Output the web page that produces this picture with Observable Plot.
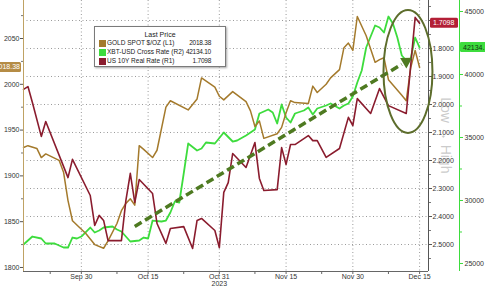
<!DOCTYPE html>
<html><head><meta charset="utf-8">
<script src="https://cdn.jsdelivr.net/npm/d3@7"></script>
<script src="https://cdn.jsdelivr.net/npm/@observablehq/plot@0.6"></script>
<style>
body{margin:0;background:#fff;}
#wrap{position:relative;width:485px;height:289px;overflow:hidden;font-family:"Liberation Sans",Arial,sans-serif;background:#fff;}
#legend{position:absolute;left:94px;top:26px;width:130px;height:39px;border:1px solid #7a7a7a;background:#fff;box-shadow:1px 1px 2px rgba(0,0,0,0.35);font-size:6.5px;color:#222;}
#legend .ttl{position:absolute;left:0;right:0;top:4px;text-align:center;line-height:8px;font-size:7px;}
#legend .row{position:absolute;left:4px;right:14px;height:8px;line-height:8px;white-space:nowrap;}
#legend .sw{position:absolute;left:0;top:0.5px;width:7px;height:7px;}
#legend .nm{position:absolute;left:8px;}
#legend .val{position:absolute;right:0;font-size:6.5px;letter-spacing:-0.25px;}
</style></head>
<body><div id="wrap"></div>
<script>
// ---------- data ----------
const goldDates = ["2023-09-17","2023-09-18","2023-09-20","2023-09-21","2023-09-22","2023-09-25","2023-09-26","2023-09-27","2023-09-28","2023-10-01","2023-10-03","2023-10-05","2023-10-06","2023-10-08","2023-10-09","2023-10-10","2023-10-11","2023-10-12","2023-10-13","2023-10-14","2023-10-16","2023-10-17","2023-10-19","2023-10-20","2023-10-24","2023-10-26","2023-10-27","2023-10-30","2023-10-31","2023-11-01","2023-11-03","2023-11-06","2023-11-07","2023-11-08","2023-11-09","2023-11-10","2023-11-13","2023-11-14","2023-11-15","2023-11-16","2023-11-17","2023-11-20","2023-11-21","2023-11-22","2023-11-24","2023-11-25","2023-11-27","2023-11-28","2023-11-29","2023-11-30","2023-12-01","2023-12-03","2023-12-05","2023-12-06","2023-12-07","2023-12-08","2023-12-11","2023-12-12","2023-12-13","2023-12-14","2023-12-15"];
const goldValues = [1931,1933,1930,1920,1924,1917,1904,1873,1851,1837,1825,1821,1829,1848,1862,1870,1875,1868,1933,1929,1920,1928,1975,1982,1972,1984,2007,1997,1987,1983,1992,1981,1971,1954,1960,1941,1946,1953,1969,1982,1980,1979,1998,1991,2000,2007,2016,2040,2045,2037,2074,2053,2024,2027,2029,2005,1988,1982,2018,2037,2018.38];

const xbtDates = ["2023-09-17","2023-09-19","2023-09-21","2023-09-22","2023-09-24","2023-09-26","2023-09-27","2023-09-28","2023-09-29","2023-09-30",
"2023-10-02","2023-10-03","2023-10-04","2023-10-05","2023-10-07","2023-10-08","2023-10-09","2023-10-11","2023-10-13","2023-10-14","2023-10-15","2023-10-16","2023-10-18","2023-10-19","2023-10-20","2023-10-21","2023-10-22","2023-10-23","2023-10-24","2023-10-26","2023-10-27","2023-10-28","2023-10-30",
"2023-11-01","2023-11-03","2023-11-04","2023-11-06","2023-11-08","2023-11-09","2023-11-11","2023-11-12","2023-11-13","2023-11-14","2023-11-15","2023-11-16","2023-11-17","2023-11-19","2023-11-20","2023-11-21","2023-11-22","2023-11-24","2023-11-25","2023-11-27","2023-11-28","2023-11-29","2023-11-30",
"2023-12-01","2023-12-02","2023-12-03","2023-12-05","2023-12-06","2023-12-07","2023-12-08","2023-12-09","2023-12-10","2023-12-11","2023-12-12","2023-12-13","2023-12-14","2023-12-15"];
const xbtValues = [26507,27142,26984,26586,26586,26269,26269,27063,26984,27142,
27856,27460,27618,27856,27936,27698,27539,26746,26825,27063,26984,28411,28333,28411,29046,29921,29841,32142,34523,33968,34127,34603,34523,
35397,34682,34762,35158,35635,36905,37222,36984,36111,37619,36587,36190,36905,37143,37381,36825,37301,37540,37698,37301,37540,37698,38254,
39365,40317,42143,43889,43730,43333,44603,44048,42936,41508,41111,41270,42936,42134.1];

const realDates = ["2023-09-17","2023-09-18","2023-09-19","2023-09-21","2023-09-22","2023-09-27","2023-09-28","2023-10-02","2023-10-03","2023-10-04","2023-10-05","2023-10-06","2023-10-09","2023-10-10","2023-10-11","2023-10-12","2023-10-13","2023-10-16","2023-10-17","2023-10-19","2023-10-20","2023-10-23","2023-10-25","2023-10-26","2023-10-27","2023-10-30","2023-10-31","2023-11-01","2023-11-02","2023-11-03","2023-11-06","2023-11-08","2023-11-09","2023-11-10","2023-11-13","2023-11-14","2023-11-15","2023-11-16","2023-11-17","2023-11-20","2023-11-21","2023-11-22","2023-11-24","2023-11-27","2023-11-29","2023-11-30","2023-12-01","2023-12-04","2023-12-06","2023-12-08","2023-12-12","2023-12-14","2023-12-15"];
const realValues = [1.946,1.936,1.993,2.114,2.061,2.261,2.196,2.325,2.432,2.396,2.414,2.486,2.486,2.343,2.246,2.350,2.268,2.318,2.425,2.496,2.443,2.436,2.514,2.414,2.407,2.450,2.511,2.314,2.279,2.175,2.225,2.136,2.264,2.307,2.304,2.154,2.214,2.143,2.143,2.111,2.129,2.129,2.189,2.157,2.046,2.075,1.979,2.032,1.943,2.004,2.032,1.689,1.7098];

const xDomain = ["2023-09-17","2023-12-17"];
const xTickDates = ["2023-09-30","2023-10-15","2023-10-31","2023-11-15","2023-11-30","2023-12-15"];
const xTickLabels = ["Sep 30","Oct 15","Oct 31\n2023","Nov 15","Nov 30","Dec 15"];
const xMinorDates = ["2023-09-23","2023-10-08","2023-10-23","2023-11-08","2023-11-23","2023-12-08"];

const goldDomain = [1795.6, 2091.5];
const goldTicks = [1800,1850,1900,1950,2000,2050];
const goldMinor = [1825,1875,1925,1975,2025,2075];
const realDomain = [2.5964, 1.6286];
const realTicks = [1.7,1.8,1.9,2.0,2.1,2.2,2.3,2.4,2.5];
const realLabelled = [1.8,1.9,2.0,2.1,2.2,2.3,2.4,2.5];
const realMinor = [1.65,1.75,1.85,1.95,2.05,2.15,2.25,2.35,2.45,2.55];
const xbtDomain = [24365, 45873];
const xbtTicks = [25000,30000,35000,40000,45000];
const xbtMinor = [27500,32500,37500,42500];

const seriesNames = ["GOLD SPOT $/OZ","XBT-USD Cross Rate","US 10Y Real Rate"];
const seriesAxes = ["(L1)","(R2)","(R1)"];
const lastLabels = ["2018.38","42134.10","1.7098"];
const colors = ["#a47a2c","#3ddc3d","#8a1c2e"];

// annotations (data units)
const trendArrow = [{d1:"2023-10-12", g1:1844.8, d2:"2023-12-11", g2:2022}];
const arrowHead = [{d:"2023-12-12", g:2025}];
const ellipseBox = {d1:"2023-12-07", d2:"2023-12-18", top:2080.6, bottom:1946.3};
const sideNote = [{t:"Low \u2192 High", r:2.11}];

// ---------- build ----------
const parse = d3.utcParse("%Y-%m-%d");
const zip = (ds, vs) => ds.map((d,i)=>({date:parse(d), v:vs[i]}));
const gold = zip(goldDates, goldValues);
const xbt = zip(xbtDates, xbtValues);
const real = zip(realDates, realValues);

const realToG = d3.scaleLinear().domain(realDomain).range(goldDomain);
const xbtToG = d3.scaleLinear().domain(xbtDomain).range(goldDomain);

const font = "Liberation Sans, Arial, sans-serif";
const grid = {stroke:"#9a9a9a", strokeOpacity:1, strokeDasharray:"1,2.5", strokeWidth:1};

function ellipseMark(index, scales) {
  const x1 = scales.x(parse(ellipseBox.d1)), x2 = scales.x(parse(ellipseBox.d2));
  const y1 = scales.y(ellipseBox.top), y2 = scales.y(ellipseBox.bottom);
  return d3.create("svg:ellipse")
    .attr("cx",(x1+x2)/2).attr("cy",(y1+y2)/2)
    .attr("rx",Math.abs(x2-x1)/2).attr("ry",Math.abs(y2-y1)/2)
    .attr("fill","none").attr("stroke","#5d6d2c").attr("stroke-width",2).node();
}

function tagMark(index, scales, values, dim) {
  const g = d3.create("svg:g").attr("font-family", font).attr("font-size", 7);
  const left = dim.marginLeft, right = dim.width - dim.marginRight;
  const tags = [
    {y: scales.y(goldValues[goldValues.length-1]), x0: left - 30, w: 28, fill:"#b58c45", color:"#fff", txt: lastLabels[0], anchor:"end", tx: left - 3},
    {y: scales.y(realToG(realValues[realValues.length-1])), x0: right + 2, w: 28, fill:"#b31f36", color:"#fff", txt: lastLabels[2], anchor:"start", tx: right + 5},
    {y: scales.y(xbtToG(xbtValues[xbtValues.length-1])), x0: right + 32, w: 40, fill:"#3ddc3d", color:"#113311", txt: lastLabels[1], anchor:"start", tx: right + 35}
  ];
  for (const t of tags) {
    g.append("rect").attr("x", t.x0).attr("y", t.y - 5).attr("width", t.w).attr("height", 10).attr("rx", 1.5).attr("fill", t.fill);
    g.append("text").attr("x", t.tx).attr("y", t.y).attr("dy", "0.35em").attr("text-anchor", t.anchor).attr("fill", t.color).text(t.txt);
  }
  return g.node();
}

const xEnd = parse(xDomain[1]), xStart = parse(xDomain[0]);

const chart = Plot.plot({
  width: 485, height: 289,
  marginLeft: 23, marginRight: 57, marginTop: 0, marginBottom: 18,
  style: {fontFamily: font, fontSize: "7px", color: "#333", background: "transparent", overflow: "visible"},
  x: {type: "utc", domain: xDomain.map(parse), label: null},
  y: {domain: goldDomain, label: null},
  marks: [
    Plot.gridY({ticks: realTicks.map(realToG), ...grid}),
    Plot.gridX({ticks: xTickDates.map(parse), ...grid}),
    Plot.line(xbt, {x:"date", y: d => xbtToG(d.v), stroke: colors[1], strokeWidth: 1.8}),
    Plot.line(gold, {x:"date", y:"v", stroke: colors[0], strokeWidth: 1.5}),
    Plot.line(real, {x:"date", y: d => realToG(d.v), stroke: colors[2], strokeWidth: 1.6}),
    // axis lines
    Plot.ruleY([goldDomain[0]], {stroke:"#666"}),
    Plot.ruleX([xStart], {stroke:"#bfa264"}),
    Plot.ruleX([xEnd], {stroke:"#555"}),
    Plot.ruleX([xEnd], {stroke:"#3ddc3d", dx: 31}),
    // x axis
    Plot.axisX({ticks: xTickDates.map(parse), tickSize: 3, tickPadding: 0, fontSize: 7, label: null,
      tickFormat: d => xTickLabels[xTickDates.indexOf(d3.utcFormat("%Y-%m-%d")(d))], stroke:"#666", fill:"#333"}),
    Plot.axisX({ticks: xMinorDates.map(parse), tickSize: 3, tickFormat: () => "", label: null, stroke:"#666"}),
    // left (gold) axis
    Plot.axisY({ticks: goldTicks, anchor: "left", tickSize: 3, tickPadding: 1, fontSize: 7, label: null,
      tickFormat: d => String(d), stroke:"#555", fill:"#333"}),
    Plot.axisY({ticks: goldMinor, anchor: "left", tickSize: 2, tickFormat: () => "", label: null, stroke:"#777"}),
    // right R1 axis
    Plot.axisY({ticks: [realToG(realTicks[0])], anchor: "right", tickSize: 3, tickFormat: () => "", label: null, stroke:"#555"}),
    Plot.axisY({ticks: realLabelled.map(realToG), anchor: "right", tickSize: 3, tickPadding: 1, fontSize: 7, label: null,
      tickFormat: g => realToG.invert(g).toFixed(4), stroke:"#555", fill:"#333"}),
    Plot.axisY({ticks: realMinor.map(realToG), anchor: "right", tickSize: 2, tickFormat: () => "", label: null, stroke:"#777"}),
    // right R2 axis
    Plot.axisY({ticks: xbtTicks.map(xbtToG), anchor: "right", dx: 31, tickSize: 3, tickPadding: 2, fontSize: 7, label: null,
      tickFormat: g => String(Math.round(xbtToG.invert(g) / 10) * 10), stroke:"#3ddc3d", fill:"#333"}),
    Plot.axisY({ticks: xbtMinor.map(xbtToG), anchor: "right", dx: 31, tickSize: 2, tickFormat: () => "", label: null, stroke:"#3ddc3d"}),
    // side note
    Plot.text(sideNote, {y: d => realToG(d.r), frameAnchor: "right", textAnchor: "middle", dx: 17, text: "t", rotate: 90,
      fontSize: 14, fill: "#8a8a8a", fillOpacity: 0.45}),
    // trend arrow
    Plot.link(trendArrow, {x1: d => parse(d.d1), y1: "g1", x2: d => parse(d.d2), y2: "g2",
      stroke: "#4e7a21", strokeWidth: 3.5, strokeDasharray: "8,4"}),
    Plot.dot(arrowHead, {x: d => parse(d.d), y: "g", symbol: "triangle", r: 4.5, rotate: 59, fill: "#4e7a21", stroke: "none"}),
    ellipseMark,
    tagMark
  ]
});

const wrap = document.getElementById("wrap");
wrap.appendChild(chart);

// legend
const lg = document.createElement("div");
lg.id = "legend";
let html = '<div class="ttl">Last Price</div>';
seriesNames.forEach((n,i) => {
  html += `<div class="row" style="top:${12 + i*9}px"><span class="sw" style="background:${colors[i]}"></span><span class="nm">${n}&nbsp;${seriesAxes[i]}</span><span class="val">${lastLabels[i]}</span></div>`;
});
lg.innerHTML = html;
wrap.appendChild(lg);
</script>
</body></html>
